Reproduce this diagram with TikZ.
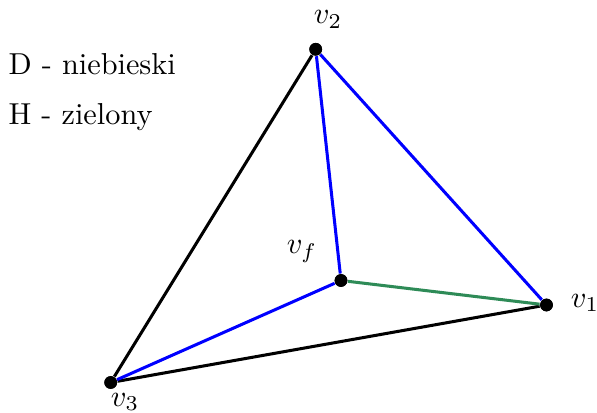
\documentclass[tikz,border=0pt]{standalone}
\definecolor{edgegreen}{RGB}{46,139,87}
\begin{document}
\begin{tikzpicture}[x=0.33pt,y=-0.33pt,
  vertex/.style={circle,fill=black,inner sep=0pt,minimum size=4.2pt},
  lbl/.style={inner sep=0pt},
  edge/.style={line width=1pt},
  txt/.style={inner sep=0pt,anchor=base west}]
\useasboundingbox (0,0) rectangle (597,413);
\node[vertex] (v2) at (315.7,49.3) {};
\node[vertex] (v1) at (546.5,305) {};
\node[vertex] (v3) at (110.7,382.5) {};
\node[vertex] (vf) at (341,280.5) {};
\draw[edge,black] (v3) -- (v2);
\draw[edge,black] (v3) -- (v1);
\draw[edge,blue] (v2) -- (v1);
\draw[edge,blue] (v2) -- (vf);
\draw[edge,blue] (vf) -- (v3);
\draw[edge,edgegreen] (vf) -- (v1);
\node[vertex] at (v2) {};
\node[vertex] at (v1) {};
\node[vertex] at (v3) {};
\node[vertex] at (vf) {};
\node[lbl] (l2) at (328,19.5) {$v_2$};
\node[lbl] (l1) at (585,303) {$v_1$};
\node[lbl] (l3) at (125,402) {$v_3$};
\node[lbl] (lf) at (302,251.5) {$v_f$};
\node[txt] (d) at (8,75) {D - niebieski};
\node[txt] (h) at (8,125) {H - zielony};
\end{tikzpicture}
\end{document}
